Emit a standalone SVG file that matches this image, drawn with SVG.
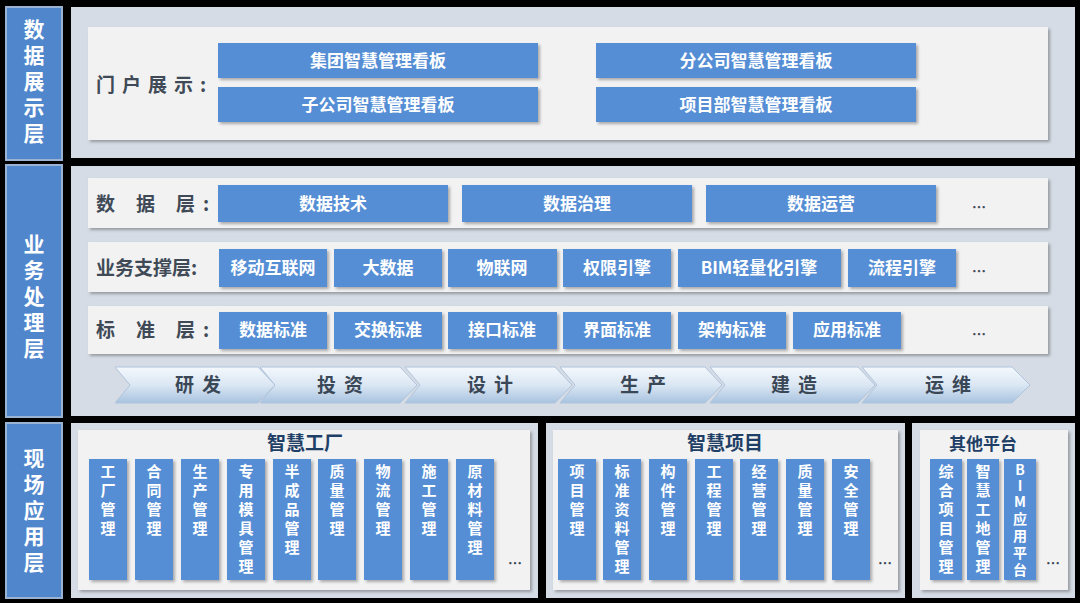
<svg xmlns="http://www.w3.org/2000/svg" width="1080" height="603" viewBox="0 0 1080 603">
<defs>
<style>
text{font-family:"Noto Sans CJK SC","Liberation Sans",sans-serif;font-weight:bold}
.side{fill:#4f86cc;stroke:#9ab3d3;stroke-width:2}
.sideT{fill:#fff;font-size:21px;text-anchor:middle}
.panel{fill:#d6dce5}
.inner{fill:#f2f2f2;filter:url(#sh)}
.b{fill:#558ed5;filter:url(#sh)}
.bt{fill:#fff;font-size:17px;text-anchor:middle}
.lbl{fill:#404a57;font-size:19px}
.col{fill:#558ed5;filter:url(#sh)}
.ct{fill:#fff;font-size:15px;text-anchor:middle}
.title{fill:#1f3f66;font-size:19px;text-anchor:middle}
.dots{fill:#404a57;font-size:14px}
.chev{fill:url(#cg);stroke:#b0c4dc;stroke-width:1}
.chT{fill:#3a4756;font-size:19px;text-anchor:middle;letter-spacing:8px}
</style>
<filter id="sh" x="-10%" y="-10%" width="130%" height="130%"><feDropShadow dx="2" dy="2" stdDeviation="1.5" flood-color="#000" flood-opacity="0.3"/></filter>
<linearGradient id="cg" x1="0" y1="0" x2="0" y2="1"><stop offset="0" stop-color="#f4f8fc"/><stop offset="0.5" stop-color="#dbe7f3"/><stop offset="1" stop-color="#a8c3e0"/></linearGradient>
</defs>
<rect width="1080" height="603" fill="#000"/>
<g id="side-labels">
<rect class="side" x="6" y="7" width="56" height="153"/>
<text class="sideT"><tspan x="34" y="37">数</tspan><tspan x="34" y="63">据</tspan><tspan x="34" y="89">展</tspan><tspan x="34" y="115">示</tspan><tspan x="34" y="141">层</tspan></text>
<rect class="side" x="6" y="165" width="56" height="252"/>
<text class="sideT"><tspan x="34" y="252">业</tspan><tspan x="34" y="278">务</tspan><tspan x="34" y="304">处</tspan><tspan x="34" y="330">理</tspan><tspan x="34" y="356">层</tspan></text>
<rect class="side" x="6" y="423" width="56" height="175"/>
<text class="sideT"><tspan x="34" y="466">现</tspan><tspan x="34" y="492">场</tspan><tspan x="34" y="518">应</tspan><tspan x="34" y="544">用</tspan><tspan x="34" y="570">层</tspan></text>
</g>
<g id="panels">
<rect class="panel" x="71" y="7" width="1004" height="151"/>
<rect class="panel" x="71" y="166" width="1004" height="250"/>
<rect class="panel" x="71" y="423" width="467" height="175"/>
<rect class="panel" x="546" y="423" width="359" height="175"/>
<rect class="panel" x="912" y="423" width="163" height="175"/>
</g>
<g id="portal">
<rect class="inner" x="88" y="27" width="960" height="113"/>
<text class="lbl" x="96" y="92" letter-spacing="7">门户展示:</text>
<rect class="b" x="218" y="43" width="320" height="35"/><text class="bt" x="378" y="67">集团智慧管理看板</text>
<rect class="b" x="218" y="87" width="320" height="35"/><text class="bt" x="378" y="111">子公司智慧管理看板</text>
<rect class="b" x="596" y="43" width="320" height="35"/><text class="bt" x="756" y="67">分公司智慧管理看板</text>
<rect class="b" x="596" y="87" width="320" height="35"/><text class="bt" x="756" y="111">项目部智慧管理看板</text>
</g>
<g id="data-layer">
<rect class="inner" x="88" y="178" width="960" height="50"/>
<text class="lbl" x="96" y="211" letter-spacing="21">数据层</text><text class="lbl" x="203" y="211">:</text>
<rect class="b" x="218" y="185" width="230" height="37"/><text class="bt" x="333" y="210">数据技术</text>
<rect class="b" x="462" y="185" width="230" height="37"/><text class="bt" x="577" y="210">数据治理</text>
<rect class="b" x="706" y="185" width="230" height="37"/><text class="bt" x="821" y="210">数据运营</text>
<text class="dots" x="972" y="212">…</text>
</g>
<g id="support-layer">
<rect class="inner" x="88" y="242" width="960" height="50"/>
<text class="lbl" x="96" y="275">业务支撑层:</text>
<rect class="b" x="219" y="249" width="108" height="38"/><text class="bt" x="273" y="274">移动互联网</text>
<rect class="b" x="334" y="249" width="108" height="38"/><text class="bt" x="388" y="274">大数据</text>
<rect class="b" x="448" y="249" width="109" height="38"/><text class="bt" x="502" y="274">物联网</text>
<rect class="b" x="563" y="249" width="108" height="38"/><text class="bt" x="617" y="274">权限引擎</text>
<rect class="b" x="678" y="249" width="163" height="38"/><text class="bt" x="759" y="274">BIM轻量化引擎</text>
<rect class="b" x="848" y="249" width="108" height="38"/><text class="bt" x="902" y="274">流程引擎</text>
<text class="dots" x="972" y="276">…</text>
</g>
<g id="standard-layer">
<rect class="inner" x="88" y="306" width="960" height="48"/>
<text class="lbl" x="96" y="337" letter-spacing="21">标准层</text><text class="lbl" x="203" y="337">:</text>
<rect class="b" x="219" y="312" width="108" height="37"/><text class="bt" x="273" y="336">数据标准</text>
<rect class="b" x="334" y="312" width="108" height="37"/><text class="bt" x="388" y="336">交换标准</text>
<rect class="b" x="448" y="312" width="109" height="37"/><text class="bt" x="502" y="336">接口标准</text>
<rect class="b" x="563" y="312" width="108" height="37"/><text class="bt" x="617" y="336">界面标准</text>
<rect class="b" x="678" y="312" width="108" height="37"/><text class="bt" x="732" y="336">架构标准</text>
<rect class="b" x="793" y="312" width="108" height="37"/><text class="bt" x="847" y="336">应用标准</text>
<text class="dots" x="972" y="339">…</text>
</g>
<g id="process">
<polygon class="chev" points="115,367 258,367 275,385 258,403 115,403 130,385"/>
<polygon class="chev" points="260,367 400,367 417,385 400,403 260,403 275,385"/>
<polygon class="chev" points="405,367 555,367 572,385 555,403 405,403 420,385"/>
<polygon class="chev" points="560,367 705,367 722,385 705,403 560,403 575,385"/>
<polygon class="chev" points="710,367 858,367 875,385 858,403 710,403 725,385"/>
<polygon class="chev" points="862,367 1012,367 1030,385 1012,403 862,403 877,385"/>
<text class="chT" x="202" y="392">研发</text>
<text class="chT" x="344" y="392">投资</text>
<text class="chT" x="494" y="392">设计</text>
<text class="chT" x="647" y="392">生产</text>
<text class="chT" x="798" y="392">建造</text>
<text class="chT" x="952" y="392">运维</text>
</g>
<g id="factory">
<rect class="inner" x="78" y="430" width="452" height="160"/>
<text class="title" x="305" y="450">智慧工厂</text>
<rect class="col" x="89" y="459" width="38" height="121"/><text class="ct"><tspan x="108" y="477">工</tspan><tspan x="108" y="496">厂</tspan><tspan x="108" y="515">管</tspan><tspan x="108" y="534">理</tspan></text>
<rect class="col" x="135" y="459" width="38" height="121"/><text class="ct"><tspan x="154" y="477">合</tspan><tspan x="154" y="496">同</tspan><tspan x="154" y="515">管</tspan><tspan x="154" y="534">理</tspan></text>
<rect class="col" x="181" y="459" width="38" height="121"/><text class="ct"><tspan x="200" y="477">生</tspan><tspan x="200" y="496">产</tspan><tspan x="200" y="515">管</tspan><tspan x="200" y="534">理</tspan></text>
<rect class="col" x="227" y="459" width="38" height="121"/><text class="ct"><tspan x="246" y="477">专</tspan><tspan x="246" y="496">用</tspan><tspan x="246" y="515">模</tspan><tspan x="246" y="534">具</tspan><tspan x="246" y="553">管</tspan><tspan x="246" y="572">理</tspan></text>
<rect class="col" x="273" y="459" width="38" height="121"/><text class="ct"><tspan x="292" y="477">半</tspan><tspan x="292" y="496">成</tspan><tspan x="292" y="515">品</tspan><tspan x="292" y="534">管</tspan><tspan x="292" y="553">理</tspan></text>
<rect class="col" x="318" y="459" width="38" height="121"/><text class="ct"><tspan x="337" y="477">质</tspan><tspan x="337" y="496">量</tspan><tspan x="337" y="515">管</tspan><tspan x="337" y="534">理</tspan></text>
<rect class="col" x="364" y="459" width="38" height="121"/><text class="ct"><tspan x="383" y="477">物</tspan><tspan x="383" y="496">流</tspan><tspan x="383" y="515">管</tspan><tspan x="383" y="534">理</tspan></text>
<rect class="col" x="410" y="459" width="38" height="121"/><text class="ct"><tspan x="429" y="477">施</tspan><tspan x="429" y="496">工</tspan><tspan x="429" y="515">管</tspan><tspan x="429" y="534">理</tspan></text>
<rect class="col" x="456" y="459" width="38" height="121"/><text class="ct"><tspan x="475" y="477">原</tspan><tspan x="475" y="496">材</tspan><tspan x="475" y="515">料</tspan><tspan x="475" y="534">管</tspan><tspan x="475" y="553">理</tspan></text>
<text class="dots" x="508" y="568">…</text>
</g>
<g id="project">
<rect class="inner" x="553" y="430" width="345" height="160"/>
<text class="title" x="725" y="450">智慧项目</text>
<rect class="col" x="558" y="459" width="38" height="121"/><text class="ct"><tspan x="577" y="477">项</tspan><tspan x="577" y="496">目</tspan><tspan x="577" y="515">管</tspan><tspan x="577" y="534">理</tspan></text>
<rect class="col" x="603" y="459" width="38" height="121"/><text class="ct"><tspan x="622" y="477">标</tspan><tspan x="622" y="496">准</tspan><tspan x="622" y="515">资</tspan><tspan x="622" y="534">料</tspan><tspan x="622" y="553">管</tspan><tspan x="622" y="572">理</tspan></text>
<rect class="col" x="649" y="459" width="38" height="121"/><text class="ct"><tspan x="668" y="477">构</tspan><tspan x="668" y="496">件</tspan><tspan x="668" y="515">管</tspan><tspan x="668" y="534">理</tspan></text>
<rect class="col" x="695" y="459" width="38" height="121"/><text class="ct"><tspan x="714" y="477">工</tspan><tspan x="714" y="496">程</tspan><tspan x="714" y="515">管</tspan><tspan x="714" y="534">理</tspan></text>
<rect class="col" x="740" y="459" width="38" height="121"/><text class="ct"><tspan x="759" y="477">经</tspan><tspan x="759" y="496">营</tspan><tspan x="759" y="515">管</tspan><tspan x="759" y="534">理</tspan></text>
<rect class="col" x="786" y="459" width="38" height="121"/><text class="ct"><tspan x="805" y="477">质</tspan><tspan x="805" y="496">量</tspan><tspan x="805" y="515">管</tspan><tspan x="805" y="534">理</tspan></text>
<rect class="col" x="832" y="459" width="38" height="121"/><text class="ct"><tspan x="851" y="477">安</tspan><tspan x="851" y="496">全</tspan><tspan x="851" y="515">管</tspan><tspan x="851" y="534">理</tspan></text>
<text class="dots" x="878" y="568">…</text>
</g>
<g id="other">
<rect class="inner" x="920" y="430" width="148" height="160"/>
<text class="title" x="983" y="450" style="font-size:17px">其他平台</text>
<rect class="col" x="930" y="459" width="32" height="121"/><text class="ct"><tspan x="946" y="477">综</tspan><tspan x="946" y="496">合</tspan><tspan x="946" y="515">项</tspan><tspan x="946" y="534">目</tspan><tspan x="946" y="553">管</tspan><tspan x="946" y="572">理</tspan></text>
<rect class="col" x="967" y="459" width="32" height="121"/><text class="ct"><tspan x="983" y="477">智</tspan><tspan x="983" y="496">慧</tspan><tspan x="983" y="515">工</tspan><tspan x="983" y="534">地</tspan><tspan x="983" y="553">管</tspan><tspan x="983" y="572">理</tspan></text>
<rect class="col" x="1004" y="459" width="32" height="121"/><text class="ct" style="font-size:14px"><tspan x="1020" y="475">B</tspan><tspan x="1020" y="491">I</tspan><tspan x="1020" y="507">M</tspan><tspan x="1020" y="524">应</tspan><tspan x="1020" y="541">用</tspan><tspan x="1020" y="558">平</tspan><tspan x="1020" y="575">台</tspan></text>
<text class="dots" x="1046" y="568">…</text>
</g>
<g id="connectors"/>
</svg>
